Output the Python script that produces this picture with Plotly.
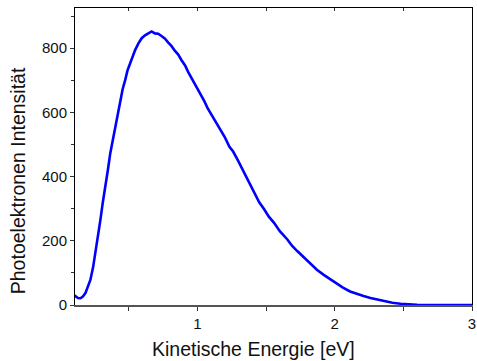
import plotly.graph_objects as go

energy = [0.100, 0.110, 0.130, 0.148, 0.165, 0.184, 0.200, 0.220, 0.240, 0.257, 0.275, 0.293,
          0.310, 0.330, 0.348, 0.365, 0.383, 0.400, 0.420, 0.437, 0.455, 0.474, 0.490, 0.510,
          0.528, 0.546, 0.570, 0.594, 0.618, 0.642, 0.666, 0.690, 0.714, 0.738, 0.762, 0.786,
          0.810, 0.835, 0.860, 0.883, 0.910, 0.932, 0.955, 0.980, 1.005, 1.028, 1.050, 1.075,
          1.100, 1.125, 1.150, 1.172, 1.200, 1.233, 1.260, 1.293, 1.341, 1.380, 1.414, 1.450,
          1.486, 1.520, 1.558, 1.600, 1.655, 1.690, 1.727, 1.780, 1.823, 1.870, 1.920, 1.970,
          2.016, 2.060, 2.112, 2.160, 2.210, 2.260, 2.306, 2.360, 2.420, 2.480, 2.540, 2.600,
          2.700, 2.800, 2.900, 3.000]
intensity = [31, 28, 22, 21, 26, 37, 55, 78, 118, 162, 212, 265,
             318, 369, 422, 473, 515, 555, 600, 639, 672, 701, 730, 753,
             776, 794, 815, 831, 840, 846, 852, 846, 845, 838, 830, 818,
             807, 792, 780, 763, 746, 726, 708, 687, 672, 654, 635, 612,
             594, 574, 558, 540, 522, 493, 478, 452, 412, 378, 350, 320,
             298, 275, 256, 230, 204, 184, 168, 146, 131, 110, 94, 79,
             68, 54, 42, 34, 28, 22, 18, 12, 7, 4, 2, 1,
             0, 0, 0, 0]

x_major = [1, 2, 3]
x_minor = [0.5, 1.5, 2.5]
y_major = [0, 200, 400, 600, 800]
x_title = "Kinetische Energie [eV]"
y_title = "Photoelektronen Intensität"

fig = go.Figure()
fig.add_trace(go.Scatter(
    x=energy, y=intensity, mode="lines",
    line=dict(color="#0000FF", width=2.6),
    showlegend=False, hoverinfo="skip"))
# invisible trace for the top tick axis
fig.add_trace(go.Scatter(x=[energy[0]], y=[intensity[0]], xaxis="x2", mode="markers",
                         marker=dict(opacity=0), showlegend=False, hoverinfo="skip"))

font = "Liberation Sans, Arial, sans-serif"
fig.update_layout(
    width=477, height=361,
    margin=dict(l=75, r=1, t=8, b=56),
    paper_bgcolor="white", plot_bgcolor="white",
    font=dict(family=font, size=15, color="#111"),
    xaxis=dict(
        range=[0.108, 3.0], tickvals=x_major, ticktext=[str(v) for v in x_major],
        ticks="outside", ticklen=4, tickwidth=1, tickcolor="#333",
        minor=dict(tickvals=x_minor, ticks="outside", ticklen=4, tickcolor="#333"),
        showgrid=False, zeroline=False, showline=True, linecolor="#555", linewidth=2,
        mirror=False, ticklabeloverflow="allow",
        tickfont=dict(size=15, family=font),
    ),
    xaxis2=dict(
        overlaying="x", side="top", range=[0.108, 3.0],
        tickvals=x_minor + x_major, showticklabels=False,
        ticks="inside", ticklen=3, tickcolor="#333",
        showgrid=False, zeroline=False, showline=True, linecolor="black", linewidth=1,
    ),
    yaxis=dict(
        range=[0, 925], tickvals=y_major, ticks="outside", ticklen=4, tickcolor="#333",
        minor=dict(tickvals=[100, 300, 500, 700, 900], ticks="outside", ticklen=3, tickcolor="#333"),
        showgrid=False, zeroline=False, showline=True, linecolor="black", linewidth=1,
        mirror=True,
        tickfont=dict(size=15, family=font),
    ),
    annotations=[
        dict(text=x_title, xref="paper", yref="paper", x=0.449, y=-0.148,
             xanchor="center", yanchor="middle", showarrow=False,
             font=dict(size=19.5, family=font, color="#111")),
        dict(text=y_title, xref="paper", yref="paper", x=-0.143, y=0.4175,
             xanchor="center", yanchor="middle", showarrow=False, textangle=-90,
             font=dict(size=19.5, family=font, color="#111")),
    ],
)

fig.write_html("out.html")
